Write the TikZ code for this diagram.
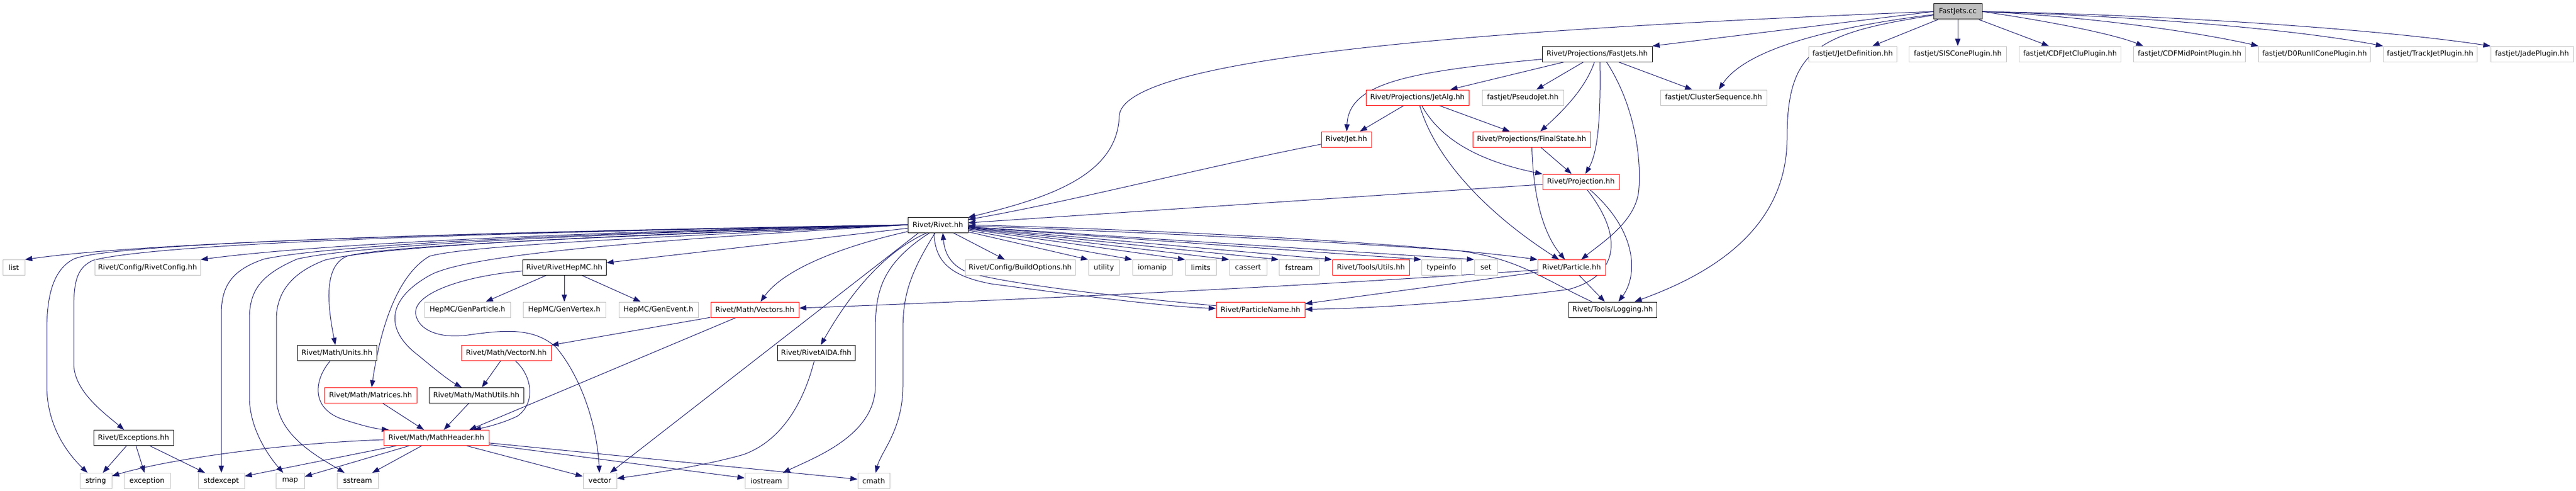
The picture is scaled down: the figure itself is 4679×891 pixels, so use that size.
\documentclass[tikz,border=0pt]{standalone}
\usepackage{fontspec}
\setmainfont{DejaVu Sans}
\usetikzlibrary{arrows.meta}
\definecolor{edgeblue}{RGB}{25,25,112}
\definecolor{extgray}{RGB}{191,191,191}
\definecolor{rootgray}{RGB}{191,191,191}
\definecolor{redb}{RGB}{255,0,0}
\pgfdeclarelayer{back}
\pgfdeclarelayer{bg}
\pgfsetlayers{back,bg,main}
\begin{document}
\begin{tikzpicture}[x=1pt,y=-1pt,
 nbox/.style={rectangle, line width=1pt, minimum height=28pt, inner sep=0pt, fill=white, font=\fontsize{13pt}{15pt}\selectfont},
 extbox/.style={nbox, draw=extgray},
 docbox/.style={nbox, draw=black},
 redbox/.style={nbox, draw=redb},
 rootbox/.style={nbox, draw=black, fill=rootgray},
 arr/.style={draw=edgeblue, line width=1pt, -{Triangle[length=13pt,width=9.5pt]}}]
\begin{pgfonlayer}{back}
\fill[white] (0,0) rectangle (4679,891);
\end{pgfonlayer}
\useasboundingbox (0,0) rectangle (4679,891);

% row 1-2
\node[rootbox, minimum width=88pt] (fjcc) at (3556,21) {FastJets.cc};
\node[docbox, minimum width=200pt] (fjhh) at (2901,98) {Rivet/Projections/FastJets.hh};
\node[extbox, minimum width=160pt] (jetdef) at (3365,98) {fastjet/JetDefinition.hh};
\node[extbox, minimum width=177pt] (siscone) at (3556,98) {fastjet/SISConePlugin.hh};
\node[extbox, minimum width=185pt] (cdfjetclu) at (3760,98) {fastjet/CDFJetCluPlugin.hh};
\node[extbox, minimum width=203pt] (cdfmid) at (3977,98) {fastjet/CDFMidPointPlugin.hh};
\node[extbox, minimum width=203pt] (dzero) at (4204,98) {fastjet/D0RunIIConePlugin.hh};
\node[extbox, minimum width=170pt] (trackjet) at (4414,98) {fastjet/TrackJetPlugin.hh};
\node[extbox, minimum width=150pt] (jade) at (4599,98) {fastjet/JadePlugin.hh};
% row 3
\node[redbox, minimum width=187pt] (jetalg) at (2574.5,177) {Rivet/Projections/JetAlg.hh};
\node[extbox, minimum width=148pt] (pseudojet) at (2766,177) {fastjet/PseudoJet.hh};
\node[extbox, minimum width=193pt] (clusterseq) at (3112.5,177) {fastjet/ClusterSequence.hh};
% row 4
\node[redbox, minimum width=91pt] (jet) at (2445.5,253) {Rivet/Jet.hh};
\node[redbox, minimum width=214pt] (finalstate) at (2782,253) {Rivet/Projections/FinalState.hh};
% row 5
\node[redbox, minimum width=139pt] (projection) at (2871.5,330) {Rivet/Projection.hh};
% row 6
\node[docbox, minimum width=109pt] (rivet) at (1703.5,408) {Rivet/Rivet.hh};
% row 7
\node[extbox, minimum width=40pt] (list) at (25,485.5) {list};
\node[extbox, minimum width=192pt] (rivetconfig) at (268,485.5) {Rivet/Config/RivetConfig.hh};
\node[docbox, minimum width=152pt] (rivethepmc) at (1025,485.5) {Rivet/RivetHepMC.hh};
\node[extbox, minimum width=200pt] (buildopts) at (1853,485.5) {Rivet/Config/BuildOptions.hh};
\node[extbox, minimum width=56pt] (utility) at (2005,485.5) {utility};
\node[extbox, minimum width=72pt] (iomanip) at (2093,485.5) {iomanip};
\node[extbox, minimum width=56pt] (limits) at (2181,485.5) {limits};
\node[extbox, minimum width=68pt] (cassert) at (2267,485.5) {cassert};
\node[extbox, minimum width=73pt] (fstream) at (2359.5,485.5) {fstream};
\node[redbox, minimum width=140pt] (utils) at (2490,485.5) {Rivet/Tools/Utils.hh};
\node[extbox, minimum width=72pt] (typeinfo) at (2618,485.5) {typeinfo};
\node[extbox, minimum width=42pt] (setn) at (2699,485.5) {set};
\node[redbox, minimum width=123pt] (particle) at (2854.5,485.5) {Rivet/Particle.hh};
% row 8
\node[extbox, minimum width=156pt] (genparticle) at (849,562) {HepMC/GenParticle.h};
\node[extbox, minimum width=150pt] (genvertex) at (1025,562) {HepMC/GenVertex.h};
\node[extbox, minimum width=144pt] (genevent) at (1196,562) {HepMC/GenEvent.h};
\node[redbox, minimum width=160pt] (vectors) at (1371,562) {Rivet/Math/Vectors.hh};
\node[redbox, minimum width=161pt] (particlename) at (2289.5,562) {Rivet/ParticleName.hh};
\node[docbox, minimum width=160pt] (logging) at (2929,562) {Rivet/Tools/Logging.hh};
% row 9
\node[docbox, minimum width=144pt] (units) at (612,640.5) {Rivet/Math/Units.hh};
\node[redbox, minimum width=163pt] (vectorn) at (919.5,640.5) {Rivet/Math/VectorN.hh};
\node[docbox, minimum width=141pt] (rivetaida) at (1482.5,640.5) {Rivet/RivetAIDA.fhh};
% row 10
\node[redbox, minimum width=168pt] (matrices) at (673,717.5) {Rivet/Math/Matrices.hh};
\node[docbox, minimum width=172pt] (mathutils) at (865,717.5) {Rivet/Math/MathUtils.hh};
% row 11
\node[docbox, minimum width=145pt] (exceptions) at (242.5,794.5) {Rivet/Exceptions.hh};
\node[redbox, minimum width=191pt] (mathheader) at (792.5,794.5) {Rivet/Math/MathHeader.hh};
% row 12
\node[extbox, minimum width=58pt] (string) at (174,872.5) {string};
\node[extbox, minimum width=84pt] (exception) at (267,872.5) {exception};
\node[extbox, minimum width=84pt] (stdexcept) at (402,872.5) {stdexcept};
\node[extbox, minimum width=52pt] (map) at (527,872.5) {map};
\node[extbox, minimum width=75pt] (sstream) at (649.5,872.5) {sstream};
\node[extbox, minimum width=61pt] (vector) at (1089.5,872.5) {vector};
\node[extbox, minimum width=78pt] (iostream) at (1392,872.5) {iostream};
\node[extbox, minimum width=58pt] (cmath) at (1587,872.5) {cmath};

\begin{pgfonlayer}{bg}
% FastJets.cc
\draw[arr] (fjcc.west) -- (fjhh.north east);
\draw[arr] (fjcc.west) .. controls (2500,60) and (2040,120) .. (2033,210) .. controls (2030,320) and (1900,360) .. (rivet);
\draw[arr] (fjcc) .. controls (3320,50) and (3170,90) .. (clusterseq);
\draw[arr] (fjcc) .. controls (3300,60) and (3246,90) .. (3246,250) .. controls (3246,420) and (3100,500) .. (logging);
\draw[arr] (fjcc) -- (jetdef);
\draw[arr] (fjcc) -- (siscone);
\draw[arr] (fjcc) -- (cdfjetclu);
\draw[arr] (fjcc.east) .. controls (3720,38) and (3840,62) .. ([xshift=18pt]cdfmid.north west);
\draw[arr] (fjcc.east) .. controls (3800,30) and (4000,60) .. (dzero.north west);
\draw[arr] (fjcc.east) .. controls (3850,28) and (4150,50) .. (trackjet.north west);
\draw[arr] (fjcc.east) .. controls (3900,26) and (4300,50) .. (jade.north west);
% FastJets.hh
\draw[arr] (fjhh) -- (jetalg);
\draw[arr] (fjhh) -- (pseudojet);
\draw[arr] (fjhh) -- (clusterseq);
\draw[arr] (fjhh) .. controls (2880,160) and (2840,200) .. (finalstate);
\draw[arr] ([xshift=5pt]fjhh.south) .. controls (2908,230) and (2900,280) .. (projection);
\draw[arr] ([xshift=17pt]fjhh.south) .. controls (2975,200) and (2980,300) .. (2977,340) .. controls (2975,400) and (2910,440) .. (particle);
\draw[arr] (fjhh) .. controls (2560,130) and (2450,150) .. (jet);
% JetAlg
\draw[arr] (jetalg) -- (jet);
\draw[arr] (jetalg) -- (finalstate);
\draw[arr] (jetalg) .. controls (2620,260) and (2700,295) .. (projection);
\draw[arr] (jetalg) .. controls (2610,300) and (2720,400) .. (particle);
% Jet, FinalState, Projection
\draw[arr] (jet) .. controls (2200,300) and (1950,365) .. (rivet);
\draw[arr] (finalstate) -- (projection);
\draw[arr] (finalstate) .. controls (2785,350) and (2800,420) .. (particle);
\draw[arr] (projection) -- (rivet);
\draw[arr] (projection) .. controls (2950,430) and (2940,500) .. (2850,525) .. controls (2700,545) and (2500,560) .. (particlename);
\draw[arr] (projection) .. controls (2975,420) and (2975,500) .. (logging);
% Particle
\draw[arr] (particle) -- (logging);
\draw[arr] (particle) -- (particlename);
\draw[arr] (particle) .. controls (2300,525) and (1700,550) .. (vectors);
% Logging, ParticleName to Rivet
\draw[arr] ([xshift=43pt]logging.north west) .. controls (2800,505) and (2760,470) .. (2650,455) .. controls (2300,430) and (1900,415) .. (rivet);
\draw[arr] (particlename) .. controls (2100,545) and (1850,520) .. (1760,495) .. controls (1720,480) and (1715,450) .. ([xshift=9pt]rivet.south);
\draw[arr] ([xshift=-7pt]rivet.south) .. controls (1698,470) and (1720,500) .. (1800,515) .. controls (1950,535) and (2120,557) .. (particlename);
% Rivet.hh to the right
\draw[arr] (rivet) -- (buildopts);
\draw[arr] (rivet) -- (utility.north west);
\draw[arr] (rivet) -- (iomanip.north west);
\draw[arr] (rivet) -- (limits.north west);
\draw[arr] (rivet) -- (cassert.north west);
\draw[arr] (rivet) -- (fstream.north west);
\draw[arr] (rivet) -- (utils.north west);
\draw[arr] (rivet) -- (typeinfo.north west);
\draw[arr] (rivet) -- (setn.north west);
\draw[arr] (rivet.east) .. controls (2200,420) and (2600,445) .. (particle.north west);
% Rivet.hh to the left
\draw[arr] (rivet.west) .. controls (1000,420) and (300,435) .. (list.north east);
\draw[arr] (rivet.west) .. controls (1100,420) and (600,440) .. (rivetconfig.north east);
\draw[arr] (rivet.west) .. controls (900,420) and (200,440) .. (134,470) .. controls (95,490) and (85,540) .. (85,600) -- (85,700) .. controls (85,780) and (130,830) .. (string);
\draw[arr] (rivet.west) .. controls (900,422) and (300,440) .. (170,472) .. controls (140,485) and (134,510) .. (134,560) -- (134,660) .. controls (134,710) and (190,750) .. (exceptions);
\draw[arr] (rivet.west) .. controls (1000,425) and (600,445) .. (480,470) .. controls (420,490) and (402,520) .. (402,570) -- (stdexcept);
\draw[arr] (rivet.west) .. controls (1050,425) and (650,445) .. (540,470) .. controls (470,500) and (453,530) .. (453,580) -- (453,720) .. controls (453,780) and (490,830) .. (map);
\draw[arr] (rivet.west) .. controls (1100,428) and (700,445) .. (590,472) .. controls (530,495) and (502,530) .. (502,580) -- (502,720) .. controls (502,790) and (580,830) .. (sstream);
\draw[arr] (rivet.west) .. controls (1100,430) and (700,445) .. (630,465) .. controls (595,480) and (590,530) .. (units);
\draw[arr] (rivet.west) .. controls (1200,430) and (850,445) .. (780,465) .. controls (720,500) and (690,600) .. (matrices);
\draw[arr] (rivet.west) .. controls (1200,435) and (850,460) .. (780,500) .. controls (700,545) and (700,600) .. (760,645) .. controls (790,670) and (815,690) .. (mathutils);
\draw[arr] (rivet) -- (rivethepmc);
% Rivet.hh downwards
\draw[arr] ([xshift=-35pt]rivet.south) -- (vector);
\draw[arr] (rivet) .. controls (1560,440) and (1430,480) .. (vectors);
\draw[arr] ([xshift=-20pt]rivet.south) .. controls (1600,460) and (1540,540) .. (rivetaida);
\draw[arr] ([xshift=-15pt]rivet.south) .. controls (1600,480) and (1590,530) .. (1590,600) -- (1590,700) .. controls (1590,790) and (1480,830) .. (iostream);
\draw[arr] ([xshift=-5pt]rivet.south) .. controls (1650,500) and (1640,540) .. (1640,600) -- (1640,700) .. controls (1640,780) and (1600,820) .. (cmath);
% RivetHepMC
\draw[arr] (rivethepmc) -- (genparticle);
\draw[arr] (rivethepmc) -- (genvertex);
\draw[arr] (rivethepmc) -- (genevent);
\draw[arr] (rivethepmc) .. controls (850,500) and (750,530) .. (755,570) .. controls (760,600) and (800,615) .. (850,608) .. controls (920,598) and (970,595) .. (1010,630) .. controls (1060,690) and (1085,780) .. (vector);
% Vectors, VectorN, etc.
\draw[arr] (vectors) -- (vectorn);
\draw[arr] (vectors) -- ([xshift=60pt]mathheader.north);
\draw[arr] (vectorn) -- (mathutils);
\draw[arr] (vectorn) .. controls (965,680) and (975,730) .. (940,755) .. controls (910,770) and (870,778) .. (mathheader);
\draw[arr] (units) .. controls (570,690) and (565,740) .. (620,760) .. controls (650,770) and (680,778) .. ([xshift=10pt]mathheader.north west);
\draw[arr] (matrices) -- (mathheader);
\draw[arr] (mathutils) -- (mathheader);
\draw[arr] (rivetaida) .. controls (1460,730) and (1420,800) .. (1350,825) .. controls (1280,845) and (1180,860) .. (vector);
% Exceptions
\draw[arr] (exceptions) -- (string);
\draw[arr] (exceptions) -- (exception);
\draw[arr] (exceptions) -- (stdexcept);
% MathHeader
\draw[arr] (mathheader) .. controls (500,805) and (300,835) .. (string);
\draw[arr] (mathheader) -- (stdexcept);
\draw[arr] (mathheader) -- (map);
\draw[arr] (mathheader) -- (sstream);
\draw[arr] (mathheader) -- (vector);
\draw[arr] (mathheader) -- (iostream);
\draw[arr] (mathheader) -- (cmath);
\end{pgfonlayer}
\end{tikzpicture}
\end{document}
